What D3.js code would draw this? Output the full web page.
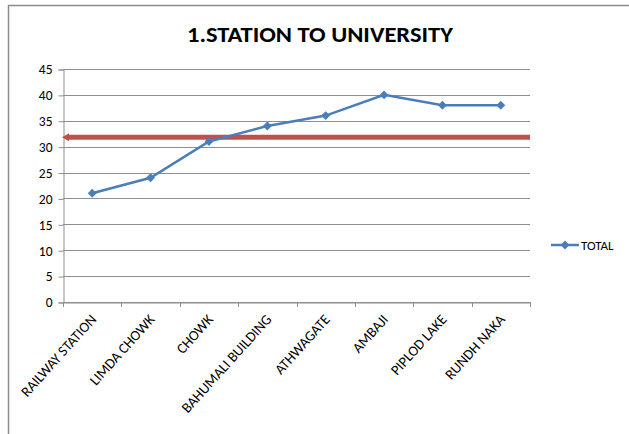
<!DOCTYPE html>
<html>
<head>
<meta charset="utf-8">
<script src="https://cdn.jsdelivr.net/npm/d3@7"></script>
<style>
body { margin: 0; background: #fff; }
text { font-family: Calibri, "Liberation Sans Narrow", Lato, sans-serif; fill: #000; }
</style>
</head>
<body>
<div id="graph"></div>
<script>
var stops = ['RAILWAY STATION', 'LIMDA CHOWK', 'CHOWK', 'BAHUMALI BUILDING', 'ATHWAGATE', 'AMBAJI', 'PIPLOD LAKE', 'RUNDH NAKA']
var total = [21, 24, 31, 34, 36, 40, 38, 38]
var yTicks = [0, 5, 10, 15, 20, 25, 30, 35, 40, 45]
var refValue = [31.8]

var w = 629
var h = 434
var plotLeft = 63, plotRight = 530, plotTop = 69, plotBottom = 302

var svg = d3.select('#graph')
	.append('svg')
	.attr('width', w)
	.attr('height', h)

// chart frame
svg.append('rect')
	.attr('x', 8.5).attr('y', 5.5)
	.attr('width', 640).attr('height', 460)
	.attr('fill', 'none')
	.attr('stroke', '#8c8c8c')
	.attr('stroke-width', 1.5)

svg.append('text')
	.attr('x', 320).attr('y', 42)
	.attr('text-anchor', 'middle')
	.style('font-size', '22px')
	.style('font-weight', 'bold')
	.attr('textLength', 266)
	.attr('lengthAdjust', 'spacingAndGlyphs')
	.text('1.STATION TO UNIVERSITY')

var x = d3.scaleBand()
	.domain(stops)
	.range([plotLeft, plotRight])

var y = d3.scaleLinear()
	.domain([0, 45])
	.range([plotBottom, plotTop])

// gridlines
svg.append('g')
	.selectAll('line')
	.data(yTicks)
	.enter()
	.append('line')
	.attr('x1', plotLeft).attr('x2', plotRight)
	.attr('y1', d => Math.round(y(d)) + 0.5)
	.attr('y2', d => Math.round(y(d)) + 0.5)
	.attr('stroke', '#8e8e8e')
	.attr('stroke-width', 1)

var yAxis = svg.append('g')
	.attr('transform', 'translate(' + (plotLeft + 0.5) + ',0.5)')
	.call(d3.axisLeft(y).tickValues(yTicks).tickSize(5).tickPadding(6))
yAxis.select('.domain').attr('stroke', '#8e8e8e')
yAxis.selectAll('.tick line').attr('stroke', '#8e8e8e')
yAxis.selectAll('text').style('font-size', '13.5px').style('font-family', 'Calibri, "Liberation Sans Narrow", Lato, sans-serif')

var xAxis = svg.append('g')
	.attr('transform', 'translate(0,' + (plotBottom + 0.5) + ')')
	.call(d3.axisBottom(x).tickSize(0).tickFormat(''))
xAxis.select('.domain').attr('stroke', '#8e8e8e')

// tick marks on the band edges
svg.append('g')
	.selectAll('line')
	.data(stops.concat(['end']))
	.enter()
	.append('line')
	.attr('x1', (d, i) => Math.round(plotLeft + x.step() * i) + 0.5)
	.attr('x2', (d, i) => Math.round(plotLeft + x.step() * i) + 0.5)
	.attr('y1', plotBottom)
	.attr('y2', plotBottom + 5)
	.attr('stroke', '#8e8e8e')

svg.append('g')
	.selectAll('text')
	.data(stops)
	.enter()
	.append('text')
	.attr('transform', d => 'translate(' + (x(d) + x.bandwidth() / 2 + 5) + ',' + (plotBottom + 18) + ') rotate(-48)')
	.attr('text-anchor', 'end')
	.style('font-size', '14.5px')
	.text(d => d)

// red reference line with shadow
var defs = svg.append('defs')
var blur = defs.append('filter').attr('id', 'shadow').attr('x', '-10%').attr('y', '-200%').attr('width', '120%').attr('height', '500%')
blur.append('feGaussianBlur').attr('stdDeviation', 1.2)

svg.append('g')
	.selectAll('line')
	.data(refValue)
	.enter()
	.append('line')
	.attr('x1', plotLeft + 2).attr('x2', plotRight - 3)
	.attr('y1', d => y(d) + 3).attr('y2', d => y(d) + 3)
	.attr('stroke', '#333')
	.attr('stroke-width', 4)
	.attr('opacity', 0.9)
	.attr('filter', 'url(#shadow)')

svg.append('g')
	.selectAll('line')
	.data(refValue)
	.enter()
	.append('line')
	.attr('x1', plotLeft + 4).attr('x2', plotRight)
	.attr('y1', d => y(d)).attr('y2', d => y(d))
	.attr('stroke', '#c0504d')
	.attr('stroke-width', 5)

svg.append('g')
	.selectAll('path')
	.data(refValue)
	.enter()
	.append('path')
	.attr('d', d => 'M' + (plotLeft - 1) + ',' + y(d) + 'L' + (plotLeft + 6) + ',' + (y(d) - 4) + 'L' + (plotLeft + 6) + ',' + (y(d) + 4) + 'Z')
	.attr('fill', '#c0504d')

// series line
var line = d3.line()
	.x((d, i) => x(stops[i]) + x.bandwidth() / 2)
	.y(d => y(d))

svg.append('path')
	.datum(total)
	.attr('d', line)
	.attr('fill', 'none')
	.attr('stroke', '#4a7ebb')
	.attr('stroke-width', 2.5)

var diamond = d3.symbol().type(d3.symbolDiamond2).size(50)

svg.append('g')
	.selectAll('path')
	.data(total)
	.enter()
	.append('path')
	.attr('d', diamond)
	.attr('transform', (d, i) => 'translate(' + (x(stops[i]) + x.bandwidth() / 2) + ',' + y(d) + ')')
	.attr('fill', '#4a7ebb')

// legend
var legend = svg.append('g').attr('transform', 'translate(551,245)')
legend.append('line')
	.attr('x1', 0).attr('x2', 28)
	.attr('stroke', '#4a7ebb')
	.attr('stroke-width', 2.5)
legend.append('path')
	.attr('d', diamond)
	.attr('transform', 'translate(14,0)')
	.attr('fill', '#4a7ebb')
legend.append('text')
	.attr('x', 30).attr('y', 4.5)
	.style('font-size', '13px')
	.text('TOTAL')
</script>
</body>
</html>
